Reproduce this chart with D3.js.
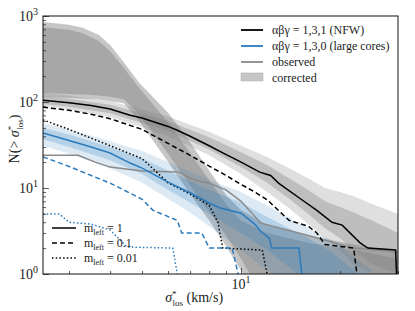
<!DOCTYPE html>
<html>
<head>
<meta charset="utf-8">
<script src="https://cdn.jsdelivr.net/npm/d3@7"></script>
<style>
  body { margin: 0; background: #fff; }
  svg { display: block; }
  text { font-family: "Liberation Serif", "DejaVu Serif", serif; fill: #222; }
</style>
</head>
<body>
<svg id="chart"></svg>
<script>
// ---- data (sigma in km/s, N counts) ----
const nfwSolidX = [2.5, 3, 3.5, 4, 4.6, 5, 6, 6.4, 7, 8, 8.8, 10, 11.4, 12.3, 13, 15.3, 17, 18.9, 20.3, 23, 24.3, 29.5, 29.7];
const nfwSolidY = [105, 98, 91, 83, 70, 65, 52, 47, 40, 31, 25.6, 20, 15.3, 14, 11.4, 7.3, 5.5, 4.0, 3.7, 2.3, 2.0, 1.9, 1];
const nfwDashX = [2.5, 3, 3.5, 4, 5, 6, 7, 8, 9, 10, 11, 12, 14, 16, 17, 18, 22, 22.5];
const nfwDashY = [87, 80, 72, 64, 48, 33, 24, 18, 14, 11, 9, 7.3, 4.2, 3.6, 3.0, 2.2, 2.0, 1];
const nfwDotX = [2.5, 3, 3.5, 4, 5, 6, 7, 8, 8.5, 8.8, 11.6, 12];
const nfwDotY = [62, 48, 38, 31, 22, 11.5, 8.5, 6.3, 4.0, 2.0, 1.9, 1];

const coreSolidX = [2.5, 3, 3.5, 4, 4.6, 5, 6, 7, 8, 8.6, 10, 11, 11.5, 12.2, 12.4, 15, 15.3];
const coreSolidY = [43.6, 35.6, 30, 25.5, 19.5, 17, 11.7, 8.8, 6.7, 5.9, 5.1, 3.8, 3.1, 2.6, 2.0, 2.0, 1];
const coreDashX = [2.5, 3, 3.5, 4, 5, 5.4, 6.4, 6.6, 7.6, 8.0, 9.4, 9.8];
const coreDashY = [23, 17.8, 14, 11.4, 7.4, 5.5, 4.2, 3.0, 3.0, 2.0, 2.0, 1];
const coreDotX = [2.5, 2.8, 3.0, 3.5, 4.0, 4.5, 6.2, 6.4];
const coreDotY = [5, 5, 4, 3.8, 3.25, 2.06, 2.0, 1];

const obsX = [2.5, 3.2, 3.6, 4, 5, 6, 6.5, 7, 7.5, 8, 9, 10, 11.5, 16, 22, 30];
const obsY = [24, 24, 20, 17.5, 15.8, 15.5, 15.3, 13, 12, 11.4, 9.5, 7, 3.9, 2.8, 2.0, 1.8];

const corrSigma = [2.5, 3, 3.3, 3.7, 4, 4.4, 4.9, 6, 7, 8, 9, 10, 11, 12, 16, 22, 30];
const corrOuterHi = [850, 790, 730, 600, 460, 290, 167, 75, 34, 16, 8.3, 5.5, 4.5, 3.7, 2.8, 2.2, 1.8];
const corrInnerHi = [740, 690, 630, 510, 390, 250, 145, 58, 25.5, 12.4, 6.5, 4.2, 3.5, 3.0, 2.3, 1.9, 1.5];
const corrInnerLo = [127, 124, 122, 119, 115, 108, 72, 25, 10.8, 5.3, 2.8, 1.5, 0.8, 0.5, 0.5, 0.5, 0.5];
const corrOuterLo = [114, 111, 110, 107, 102, 97, 60, 20, 8.5, 4.2, 2.1, 1.1, 0.6, 0.5, 0.5, 0.5, 0.5];

const nfwSigma = [2.5, 3, 4, 5, 6, 8, 10, 12, 14, 16, 18, 20, 22, 25, 30];
const nfwOuterHi = [127, 118, 102, 82, 68, 45, 31, 23, 17, 13, 10, 9, 8, 6.5, 5];
const nfwInnerHi = [117, 109, 93, 74, 60, 39, 26, 18.5, 13, 9.5, 7, 6, 5.2, 4.2, 3];
const nfwInnerLo = [95, 88, 74, 57, 46, 28, 17.5, 11.5, 7.5, 5, 3.4, 2.6, 1.9, 1.3, 1];
const nfwOuterLo = [88, 81, 67, 51, 40, 24, 14.5, 9, 5.8, 3.8, 2.6, 1.9, 1.3, 1, 0.8];

const coreSigma = [2.5, 3, 4, 5, 6, 7, 8, 10, 12, 14, 16, 18, 20, 22, 25];
const coreOuterHi = [57, 48, 35, 27, 20, 15.5, 12.5, 9, 6.2, 4.5, 3.4, 2.7, 2.2, 1.6, 1.1];
const coreInnerHi = [50, 42, 30, 22, 16, 12, 9.5, 6.8, 4.6, 3.4, 2.6, 2.0, 1.5, 1.1, 0.8];
const coreInnerLo = [37, 30, 21, 14.5, 9.5, 6.8, 5, 3.0, 1.9, 1.2, 0.8, 0.6, 0.5, 0.5, 0.5];
const coreOuterLo = [31, 25, 17, 11.5, 7.5, 5.2, 3.6, 1.9, 1.1, 0.8, 0.5, 0.5, 0.5, 0.5, 0.5];

const yTicks = [1, 10, 100, 1000];
const xMajor = [10];

const W = 415, H = 311;
const margin = { top: 16, right: 17, bottom: 37, left: 43 };
const width = W - margin.left - margin.right,
      height = H - margin.top - margin.bottom;

const blue = "#2a7bbd";

const svg = d3.select("#chart").attr("width", W).attr("height", H);

svg.append("defs").append("clipPath").attr("id", "clip")
  .append("rect").attr("width", width).attr("height", height);

const g = svg.append("g")
  .attr("transform", "translate(" + margin.left + "," + margin.top + ")");

const x = d3.scaleLog().domain([2.5, 30]).range([0, width]);
const y = d3.scaleLog().domain([1, 1000]).range([height, 0]);

const plot = g.append("g").attr("clip-path", "url(#clip)");

function band(xs, lo, hi, fill, op) {
  const pts = xs.map((s, i) => ({ s: s, lo: lo[i], hi: hi[i] }));
  plot.append("path")
    .datum(pts)
    .attr("d", d3.area().x(d => x(d.s)).y0(d => y(d.lo)).y1(d => y(d.hi)))
    .attr("fill", fill)
    .attr("fill-opacity", op)
    .attr("stroke", "none");
}

function line(xs, ys, color, dash, w) {
  const pts = xs.map((s, i) => [s, ys[i]]);
  plot.append("path")
    .datum(pts)
    .attr("d", d3.line().x(d => x(d[0])).y(d => y(d[1])))
    .attr("fill", "none")
    .attr("stroke", color)
    .attr("stroke-width", w || 1.5)
    .attr("stroke-dasharray", dash || null);
}

// corrected band
band(corrSigma, corrOuterLo, corrOuterHi, "#808080", 0.45);
band(corrSigma, corrInnerLo, corrInnerHi, "#808080", 0.45);
// model bands
band(nfwSigma, nfwOuterLo, nfwOuterHi, "#808080", 0.25);
band(nfwSigma, nfwInnerLo, nfwInnerHi, "#808080", 0.35);
band(coreSigma, coreOuterLo, coreOuterHi, blue, 0.16);
band(coreSigma, coreInnerLo, coreInnerHi, blue, 0.22);

// observed
line(obsX, obsY, "#8a8a8a", null, 1.5);

// model curves
line(nfwSolidX, nfwSolidY, "#000", null, 1.5);
line(nfwDashX, nfwDashY, "#000", "5,3", 1.5);
line(nfwDotX, nfwDotY, "#000", "1.5,2.2", 1.5);
line(coreSolidX, coreSolidY, blue, null, 1.5);
line(coreDashX, coreDashY, blue, "5,3", 1.5);
line(coreDotX, coreDotY, blue, "1.5,2.2", 1.5);

// axes (ticks inward)
const yAxis = d3.axisLeft(y).tickValues(yTicks).tickSizeInner(-6).tickSizeOuter(0).tickFormat("");
const yMinor = [];
[1, 10, 100].forEach(d => { for (let k = 2; k < 10; k++) yMinor.push(d * k); });
g.append("g").call(yAxis);
g.append("g").call(d3.axisLeft(y).tickValues(yMinor).tickSizeInner(-3).tickSizeOuter(0).tickFormat(""));

const xMinor = [3, 4, 5, 6, 7, 8, 9, 20, 30];
g.append("g").attr("transform", "translate(0," + height + ")")
  .call(d3.axisBottom(x).tickValues(xMajor).tickSizeInner(-6).tickSizeOuter(0).tickFormat(""));
g.append("g").attr("transform", "translate(0," + height + ")")
  .call(d3.axisBottom(x).tickValues(xMinor).tickSizeInner(-3).tickSizeOuter(0).tickFormat(""));

g.selectAll(".domain").remove();
g.selectAll(".tick line").attr("stroke", "#333").attr("stroke-width", 0.8);

g.append("rect").attr("width", width).attr("height", height)
  .attr("fill", "none").attr("stroke", "#111").attr("stroke-width", 1);

// tick labels
yTicks.forEach(v => {
  const t = g.append("text")
    .attr("x", -5).attr("y", y(v) + 5)
    .attr("text-anchor", "end")
    .style("font-size", "14px");
  t.append("tspan").text("10");
  t.append("tspan").attr("dy", -6).style("font-size", "10px").text(Math.round(Math.log10(v)));
});
xMajor.forEach(v => {
  const t = g.append("text")
    .attr("x", x(v)).attr("y", height + 15)
    .attr("text-anchor", "middle")
    .style("font-size", "14px");
  t.append("tspan").text("10");
  t.append("tspan").attr("dy", -6).style("font-size", "10px").text("1");
});

// axis titles
const xl = svg.append("text")
  .attr("x", margin.left + x(7.2)).attr("y", H - 9)
  .attr("text-anchor", "middle").style("font-size", "14px");
xl.append("tspan").style("font-style", "italic").text("σ");
xl.append("tspan").attr("dy", -5).style("font-size", "9px").text("*");
xl.append("tspan").attr("dx", -4).attr("dy", 9).style("font-size", "9px").text("los");
xl.append("tspan").attr("dy", -4).text(" (km/s)");

const yl = svg.append("text")
  .attr("transform", "translate(19," + (margin.top + height / 2 - 6) + ") rotate(-90)")
  .attr("text-anchor", "middle").style("font-size", "14px");
yl.append("tspan").text("N(> ");
yl.append("tspan").style("font-style", "italic").text("σ");
yl.append("tspan").attr("dy", -5).style("font-size", "9px").text("*");
yl.append("tspan").attr("dx", -4).attr("dy", 9).style("font-size", "9px").text("los");
yl.append("tspan").attr("dy", -4).text(")");

// upper legend
const leg = [
  { label: "αβγ = 1,3,1 (NFW)", color: "#000", type: "line", w: 1.8 },
  { label: "αβγ = 1,3,0 (large cores)", color: blue, type: "line", w: 1.8 },
  { label: "observed", color: "#8a8a8a", type: "line", w: 1.8 },
  { label: "corrected", color: "#c6c6c6", type: "patch" }
];
leg.forEach((d, i) => {
  const yy = 30 + i * 16;
  if (d.type === "line") {
    svg.append("line").attr("x1", 241).attr("x2", 263).attr("y1", yy).attr("y2", yy)
      .attr("stroke", d.color).attr("stroke-width", d.w);
  } else {
    svg.append("rect").attr("x", 241).attr("y", yy - 5).attr("width", 22).attr("height", 8)
      .attr("fill", d.color).attr("stroke", "#b5b5b5").attr("stroke-width", 0.6);
  }
  svg.append("text").attr("x", 272).attr("y", yy + 4)
    .style("font-size", "12px").text(d.label);
});

// lower legend
const mLeg = [
  { val: "1", dash: null },
  { val: "0.1", dash: "5,3" },
  { val: "0.01", dash: "1.5,2.2" }
];
mLeg.forEach((d, i) => {
  const yy = 228 + i * 15;
  svg.append("line").attr("x1", 52).attr("x2", 76).attr("y1", yy).attr("y2", yy)
    .attr("stroke", "#000").attr("stroke-width", 1.5).attr("stroke-dasharray", d.dash);
  const t = svg.append("text").attr("x", 84).attr("y", yy + 4).style("font-size", "12px");
  t.append("tspan").text("m");
  t.append("tspan").attr("dy", 3).style("font-size", "8px").text("left");
  t.append("tspan").attr("dy", -3).text(" = " + d.val);
});
</script>
</body>
</html>
